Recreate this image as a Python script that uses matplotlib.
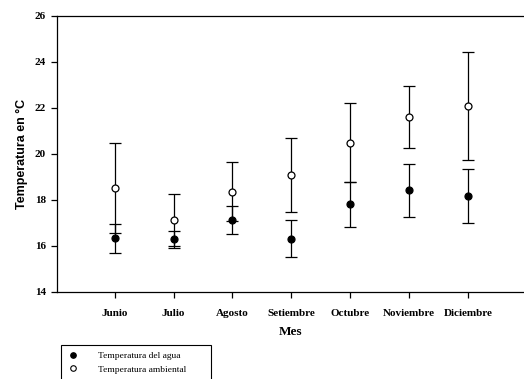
import matplotlib.pyplot as plt
from matplotlib.lines import Line2D
import numpy as np

# monthly means and error bars
meses = ['Junio', 'Julio', 'Agosto', 'Setiembre', 'Octubre', 'Noviembre', 'Diciembre']
agua = [16.33, 16.29, 17.13, 16.32, 17.81, 18.43, 18.17]
agua_err = [0.64, 0.36, 0.60, 0.80, 0.97, 1.15, 1.16]
ambiental = [18.52, 17.13, 18.36, 19.09, 20.49, 21.61, 22.09]
ambiental_err = [1.94, 1.12, 1.28, 1.60, 1.72, 1.33, 2.33]
yticks = [14, 16, 18, 20, 22, 24, 26]

serif = 'Liberation Serif'

fig = plt.figure(figsize=(5.24, 3.79), dpi=100)
ax = fig.add_axes([57 / 524, 1 - 292 / 379, 1 - 57 / 524, (292 - 16) / 379])

x = np.arange(1, len(meses) + 1)

ax.errorbar(x, ambiental, yerr=ambiental_err, fmt='o', color='black', mfc='white',
            mec='black', ms=5, mew=0.9, elinewidth=0.9, capsize=4.5, capthick=0.9,
            zorder=3)
ax.errorbar(x, agua, yerr=agua_err, fmt='o', color='black', mfc='black',
            mec='black', ms=5, mew=0.9, elinewidth=0.9, capsize=4.5, capthick=0.9,
            zorder=4)

ax.set_xlim(0.02, 7.95)
ax.set_ylim(14, 26)
ax.set_yticks(yticks)
ax.set_yticklabels([str(t) for t in yticks], fontfamily=serif, fontweight='bold', fontsize=8)
ax.set_xticks(x)
ax.set_xticklabels(meses, fontfamily=serif, fontweight='bold', fontsize=8)
ax.tick_params(direction='out', length=4, width=0.9, pad=8)
ax.tick_params(axis='y', pad=4)

ax.spines['right'].set_visible(False)
for s in ['left', 'top', 'bottom']:
    ax.spines[s].set_linewidth(0.9)

ax.set_ylabel('Temperatura en °C', fontfamily='Liberation Sans', fontweight='bold',
              fontsize=9, labelpad=5)
ax.set_xlabel('Mes', fontfamily=serif, fontweight='bold', fontsize=9.5, labelpad=6)

handles = [Line2D([], [], ls='none', marker='o', ms=4, mfc='black', mec='black', mew=0.8),
           Line2D([], [], ls='none', marker='o', ms=4, mfc='white', mec='black', mew=0.8)]
labels = ['Temperatura del agua', 'Temperatura ambiental']
leg = fig.legend(handles, labels, loc='upper left',
                 bbox_to_anchor=(56 / 524, 1 - 340 / 379, 160 / 524, 0.0), mode='expand',
                 frameon=True, fancybox=False, edgecolor='black', framealpha=1,
                 prop={'family': serif, 'size': 6.8}, handletextpad=2.0,
                 borderpad=0.7, labelspacing=0.55, handlelength=1.2)
leg.get_frame().set_linewidth(0.8)

fig.savefig('out.png', dpi=100)
